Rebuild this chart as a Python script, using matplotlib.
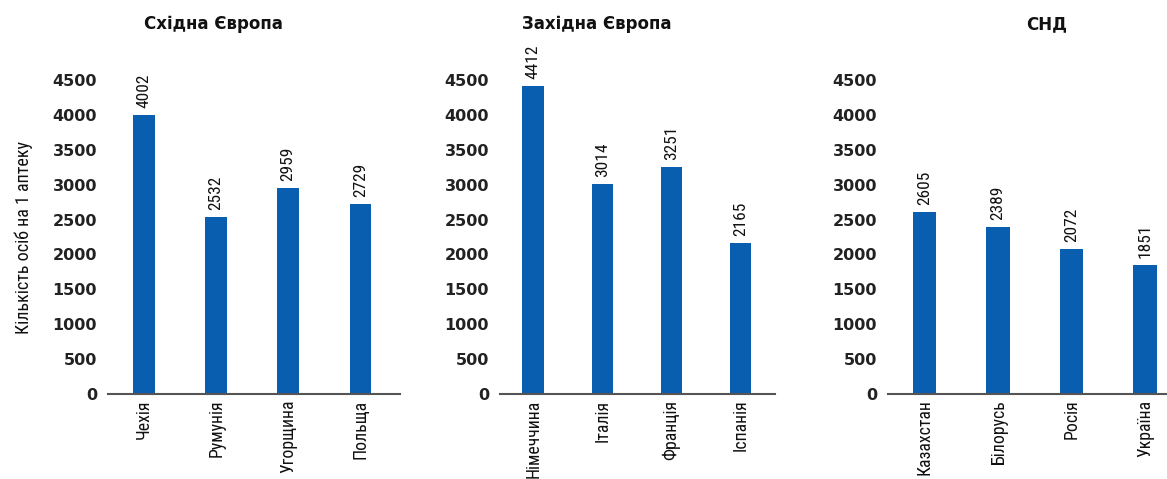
import matplotlib
matplotlib.use("Agg")
import matplotlib.pyplot as plt
from matplotlib import font_manager as fm

# Data
east_countries = ["Чехія", "Румунія", "Угорщина", "Польща"]
east_values = [4002, 2532, 2959, 2729]

west_countries = ["Німеччина", "Італія", "Франція", "Іспанія"]
west_values = [4412, 3014, 3251, 2165]

cis_countries = ["Казахстан", "Білорусь", "Росія", "Україна"]
cis_values = [2605, 2389, 2072, 1851]

titles = ["Східна Європа", "Західна Європа", "СНД"]
y_label = "Кількість осіб на 1 аптеку"
y_ticks = [0, 500, 1000, 1500, 2000, 2500, 3000, 3500, 4000, 4500]

bar_color = "#0a5eb0"
narrow = ["Roboto Condensed", "PT Sans Narrow", "DejaVu Sans"]


def pick_font(name, weight, size):
    # look for a static font file of the wanted weight, else DejaVu Sans bold
    cands = [f for f in fm.fontManager.ttflist
             if f.name == name and f.style == "normal" and "[" not in f.fname]
    if cands:
        best = min(cands, key=lambda f: abs(int(f.weight) - weight)
                   if str(f.weight).isdigit() else 999)
        return fm.FontProperties(fname=best.fname, size=size)
    return fm.FontProperties(family="DejaVu Sans", weight="bold", size=size)


tick_font = pick_font("Montserrat", 600, 11.5)
title_font = pick_font("Montserrat", 800, 12)

W, H = 1167, 479
fig = plt.figure(figsize=(W / 100, H / 100), dpi=100)

# axes boxes in pixels: left, right, x-limits, title centre
panels = [
    (108, 400, (-0.5, 3.55), east_countries, east_values, 0.30, 213),
    (500, 775, (-0.48, 3.5), west_countries, west_values, 0.31, 597),
    (888, 1167, (-0.5, 3.3), cis_countries, cis_values, 0.32, 1047),
]
top_px, bottom_px = 80, 394

for i, (lft, rgt, xlim, names, values, width, tx) in enumerate(panels):
    ax = fig.add_axes([lft / W, (H - bottom_px) / H, (rgt - lft) / W,
                       (bottom_px - top_px) / H])
    x = list(range(len(names)))
    ax.bar(x, values, width=width, color=bar_color)
    ax.set_xlim(*xlim)
    ax.set_ylim(0, 4500)
    ax.set_yticks(y_ticks)
    ax.set_xticks(x)
    ax.set_xticklabels(names, rotation=90, family=narrow, fontsize=12.8,
                       color="#111111")
    for lab in ax.get_yticklabels():
        lab.set_fontproperties(tick_font)
        lab.set_color("#222222")
    ax.tick_params(axis="both", length=0)
    ax.tick_params(axis="y", pad=8)
    ax.tick_params(axis="x", pad=4)
    for s in ["left", "right", "top"]:
        ax.spines[s].set_visible(False)
    ax.spines["bottom"].set_color("#555555")
    ax.spines["bottom"].set_linewidth(1.5)

    # value labels above the bars
    for xi, v in zip(x, values):
        ax.annotate(str(v), (xi, v), xytext=(0, 5), textcoords="offset points",
                    rotation=90, ha="center", va="bottom", family=narrow,
                    fontsize=12.5, color="#111111", annotation_clip=False)

    # panel title
    fig.text(tx / W, 1 - 24 / H, titles[i], ha="center", va="center",
             fontproperties=title_font, color="#111111")

    if i == 0:
        ax.set_ylabel(y_label, family=narrow, fontsize=13, color="#111111",
                      labelpad=14)

fig.savefig("out.png", dpi=100)
